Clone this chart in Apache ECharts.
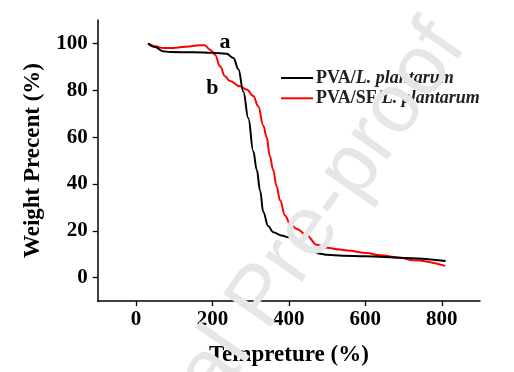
<!DOCTYPE html>
<html>
<head>
<meta charset="utf-8">
<script src="https://cdn.jsdelivr.net/npm/echarts@6/dist/echarts.min.js"></script>
<style>html,body{margin:0;padding:0;background:#fff}#c{width:514px;height:372px}</style>
</head>
<body>
<div id="c"></div>
<script>
// Data
var seriesNames = ['PVA/L. plantarum', 'PVA/SF/L. plantarum'];
var tempA = [32, 50, 70, 90, 150, 200, 237, 255, 268, 281, 294, 307, 316, 325, 333, 346, 359, 380, 400, 412, 430, 447, 465, 482, 500, 540, 600, 700, 810];
var weightA = [100, 98.5, 96.7, 96.3, 96.2, 96, 95.6, 93.8, 89, 79.5, 68, 54, 46, 37, 28, 22, 19.4, 18, 17.2, 16, 14.5, 12.5, 11, 10.2, 9.7, 9.3, 9.1, 8.4, 7.1];
var tempB = [32, 50, 71, 90, 130, 167, 180, 194, 207, 220, 233, 246, 272, 290, 307, 320, 333, 342, 350, 359, 368, 377, 390, 403, 421, 447, 473, 500, 534, 552, 604, 639, 691, 726, 809];
var weightB = [100, 98.8, 98, 98, 98.6, 99.2, 99.2, 97.3, 95.2, 90.2, 86, 83.9, 81.7, 80.3, 77.5, 73.2, 65, 60, 52, 46, 39, 33, 26.5, 23, 20.8, 18, 14, 12.7, 12, 11.6, 10.5, 9.5, 8.5, 7.4, 5];
var xTicks = [0, 200, 400, 600, 800];
var yTicks = [0, 20, 40, 60, 80, 100];
var annotTexts = ['a', 'b'];
var annotX = [233, 200];
var annotY = [100.4, 81.0];

function pairs(xs, ys) { return xs.map(function (x, i) { return [x, ys[i]]; }); }

var serif = '"Liberation Serif", "Times New Roman", serif';
var chart = echarts.init(document.getElementById('c'), null, {renderer: 'canvas'});

var axisCommon = {
  axisLine: {show: true, onZero: false, lineStyle: {color: '#000', width: 1.5}},
  splitLine: {show: false},
  nameLocation: 'middle',
  nameTextStyle: {fontFamily: serif, fontWeight: 'bold', fontSize: 23, color: '#000'}
};

var wmAngle = 55 * Math.PI / 180;

chart.setOption({
  animation: false,
  backgroundColor: '#fff',
  grid: {left: 97.7, top: 20, right: 34, bottom: 69.7, containLabel: false},
  xAxis: Object.assign({}, axisCommon, {
    type: 'value', min: -100, max: 900,
    name: 'Tempreture (%)', nameGap: 43,
    axisTick: {show: true, inside: false, length: 5, customValues: xTicks, lineStyle: {color: '#000', width: 1.3}},
    axisLabel: {customValues: xTicks, margin: 8, fontFamily: serif, fontWeight: 'bold', fontSize: 21, color: '#000'}
  }),
  yAxis: Object.assign({}, axisCommon, {
    type: 'value', min: -10, max: 110,
    name: 'Weight Precent (%)', nameGap: 53,
    axisTick: {show: true, inside: false, length: 5, customValues: yTicks, lineStyle: {color: '#000', width: 1.3}},
    axisLabel: {customValues: yTicks, margin: 10, fontFamily: serif, fontWeight: 'bold', fontSize: 21, color: '#000'}
  }),
  legend: {
    orient: 'vertical', left: 281, top: 69, padding: 0, itemGap: 2.3,
    icon: 'rect', itemWidth: 32, itemHeight: 2,
    data: seriesNames,
    formatter: function (name) {
      var idx = name.indexOf('L.');
      return '{n|' + name.slice(0, idx) + '}{i|' + name.slice(idx) + '}';
    },
    textStyle: {
      padding: [0, 0, 0, -2],
      rich: {
        n: {fontFamily: serif, fontWeight: 'bold', fontSize: 18, color: '#222', lineHeight: 20},
        i: {fontFamily: serif, fontWeight: 'bold', fontStyle: 'italic', fontSize: 18, color: '#222', lineHeight: 20}
      }
    }
  },
  series: [
    {
      name: seriesNames[0], type: 'line', data: pairs(tempA, weightA),
      showSymbol: false, symbol: 'none', smooth: 0.4, smoothMonotone: 'x',
      lineStyle: {color: '#000', width: 2}, itemStyle: {color: '#000'}, z: 3,
      markPoint: {
        symbol: 'circle', symbolSize: 1, itemStyle: {color: 'rgba(0,0,0,0)'},
        label: {show: true, position: 'inside', fontFamily: serif, fontWeight: 'bold', fontSize: 22, color: '#000',
                formatter: function (p) { return p.name; }},
        data: annotTexts.map(function (t, i) { return {name: t, coord: [annotX[i], annotY[i]]}; })
      }
    },
    {
      name: seriesNames[1], type: 'line', data: pairs(tempB, weightB),
      showSymbol: false, symbol: 'none', smooth: 0.4, smoothMonotone: 'x',
      lineStyle: {color: '#ff0000', width: 2}, itemStyle: {color: '#ff0000'}, z: 2
    }
  ],
  graphic: [{
    type: 'text', x: 76, y: 564, rotation: wmAngle, z: 100, silent: true,
    style: {text: 'Journal Pre-proof', fontFamily: '"Liberation Sans", Arial, sans-serif', fontSize: 84,
            fill: '#e6e6e6', textAlign: 'left', textVerticalAlign: 'middle'}
  }]
});
</script>
</body>
</html>
